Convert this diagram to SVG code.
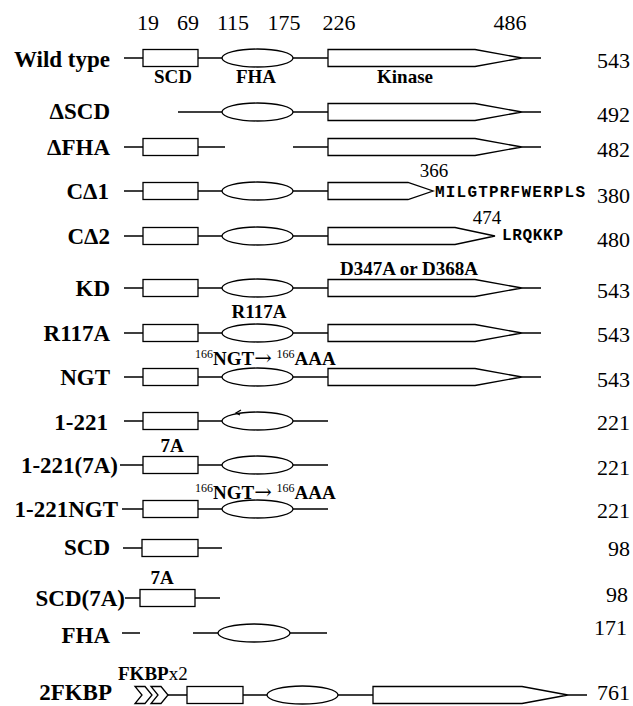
<svg xmlns="http://www.w3.org/2000/svg" width="633" height="706" viewBox="0 0 633 706">
<style>
text{fill:#000}
.ln{stroke:#000;stroke-width:1.3;fill:none}
.bx{fill:#fff;stroke:#000;stroke-width:1.3}
.lab{font-family:"Liberation Serif",serif;font-weight:bold;font-size:23px;text-anchor:end}
.num{font-family:"Liberation Serif",serif;font-size:22px;text-anchor:end}
.top{font-family:"Liberation Serif",serif;font-size:22px;text-anchor:middle}
.ann{font-family:"Liberation Serif",serif;font-weight:bold;font-size:19px}
.sm{font-family:"Liberation Serif",serif;font-size:19px;text-anchor:middle}
.mono{font-family:"Liberation Mono",monospace;font-weight:bold;font-size:16px}
.sup{font-size:12px;font-weight:normal}
.arr{font-family:"DejaVu Serif",serif;font-weight:normal;font-size:21px}
</style>
<rect width="633" height="706" fill="#fff"/>
<g id="axis">
<text class="top" x="148" y="30">19</text>
<text class="top" x="188" y="30">69</text>
<text class="top" x="233" y="30">115</text>
<text class="top" x="284" y="30">175</text>
<text class="top" x="339" y="30">226</text>
<text class="top" x="510" y="30">486</text>
</g>
<g id="connectors">
<path class="ln" d="M124 58H143M198 58H222M293 58H328M522 58H541"/>
<path class="ln" d="M178 112H222M293 112H328M522 112H541"/>
<path class="ln" d="M124 147H143M198 147H225M293 147H328M522 147H541"/>
<path class="ln" d="M124 191H143M198 191H222M293 191H328"/>
<path class="ln" d="M124 236H143M198 236H222M293 236H328"/>
<path class="ln" d="M124 288H143M198 288H222M293 288H328M522 288H541"/>
<path class="ln" d="M124 333H143M198 333H222M293 333H328M522 333H541"/>
<path class="ln" d="M124 377H143M198 377H222M293 377H328M522 377H541"/>
<path class="ln" d="M124 421H143M198 421H222M293 421H328"/>
<path class="ln" d="M120 465H143M198 465H222M293 465H328"/>
<path class="ln" d="M122 509H143M198 509H222M293 509H328"/>
<path class="ln" d="M123 548H142M198 548H222"/>
<path class="ln" d="M125 598H140M195 598H220"/>
<path class="ln" d="M122 633H140M193 633H218M290 633H327"/>
<path class="ln" d="M168 695H187M243 695H267M338 695H373M568 695H587"/>
</g>
<g id="wild-type">
<text class="lab" x="110" y="67">Wild type</text>
<rect class="bx" x="143" y="49.5" width="55" height="17"/>
<ellipse class="bx" cx="257.5" cy="58" rx="35.5" ry="9"/>
<polygon class="bx" points="328,49.5 475,49.5 522,58 475,66.5 328,66.5"/>
<text class="ann" x="173" y="83" text-anchor="middle">SCD</text>
<text class="ann" x="256" y="83" text-anchor="middle">FHA</text>
<text class="ann" x="405" y="83" text-anchor="middle">Kinase</text>
<text class="num" x="630" y="68" font-size="24">543</text>
</g>
<g id="dSCD">
<text class="lab" x="110" y="119">ΔSCD</text>
<ellipse class="bx" cx="257.5" cy="112" rx="35.5" ry="9"/>
<polygon class="bx" points="328,103.5 475,103.5 522,112 475,120.5 328,120.5"/>
<text class="num" x="630" y="122">492</text>
</g>
<g id="dFHA">
<text class="lab" x="110" y="155">ΔFHA</text>
<rect class="bx" x="143" y="138.5" width="55" height="17"/>
<polygon class="bx" points="328,138.5 475,138.5 522,147 475,155.5 328,155.5"/>
<text class="num" x="630" y="157">482</text>
</g>
<g id="cd1">
<text class="lab" x="109" y="199">CΔ1</text>
<rect class="bx" x="143" y="182.5" width="55" height="17"/>
<ellipse class="bx" cx="257.5" cy="191" rx="35.5" ry="9"/>
<polygon class="bx" points="328,182.5 408,182.5 433,191 408,199.5 328,199.5"/>
<text class="sm" x="434" y="177">366</text>
<text class="mono" x="435" y="197" textLength="150">MILGTPRFWERPLS</text>
<text class="num" x="630" y="203">380</text>
</g>
<g id="cd2">
<text class="lab" x="110" y="244">CΔ2</text>
<rect class="bx" x="143" y="227.5" width="55" height="17"/>
<ellipse class="bx" cx="257.5" cy="236" rx="35.5" ry="9"/>
<polygon class="bx" points="328,227.5 455,227.5 495,236 455,244.5 328,244.5"/>
<text class="sm" x="487" y="224">474</text>
<text class="mono" x="502" y="240" textLength="61">LRQKKP</text>
<text class="num" x="630" y="247">480</text>
</g>
<g id="kd">
<text class="lab" x="110" y="296">KD</text>
<rect class="bx" x="143" y="279.5" width="55" height="17"/>
<ellipse class="bx" cx="257.5" cy="288" rx="35.5" ry="9"/>
<polygon class="bx" points="328,279.5 475,279.5 522,288 475,296.5 328,296.5"/>
<text class="ann" x="340" y="275" font-size="17.5">D347A or D368A</text>
<text class="num" x="630" y="298">543</text>
</g>
<g id="r117a">
<text class="lab" x="110" y="341">R117A</text>
<rect class="bx" x="143" y="324.5" width="55" height="17"/>
<ellipse class="bx" cx="257.5" cy="333" rx="35.5" ry="9"/>
<polygon class="bx" points="328,324.5 475,324.5 522,333 475,341.5 328,341.5"/>
<text class="ann" x="259" y="318" text-anchor="middle">R117A</text>
<text class="num" x="630" y="342">543</text>
</g>
<g id="ngt">
<text class="lab" x="110" y="385">NGT</text>
<rect class="bx" x="143" y="368.5" width="55" height="17"/>
<ellipse class="bx" cx="257.5" cy="377" rx="35.5" ry="9"/>
<text class="ann" x="195" y="365"><tspan class="sup" dy="-7">166</tspan><tspan dy="7">NGT</tspan><tspan class="arr">→</tspan><tspan> </tspan><tspan class="sup" dy="-7">166</tspan><tspan dy="7">AAA</tspan></text>
<polygon class="bx" points="328,368.5 475,368.5 522,377 475,385.5 328,385.5"/>
<text class="num" x="630" y="387">543</text>
</g>
<g id="r1-221">
<text class="lab" x="108" y="430">1-221</text>
<rect class="bx" x="143" y="412.5" width="55" height="17"/>
<ellipse class="bx" cx="257.5" cy="421" rx="35.5" ry="9"/>
<path class="ln" d="M241 410L236 413L240 415" stroke-width="1"/>
<text class="num" x="630" y="430">221</text>
</g>
<g id="r1-221-7a">
<text class="lab" x="118" y="473">1-221(7A)</text>
<rect class="bx" x="143" y="456.5" width="55" height="17"/>
<ellipse class="bx" cx="257.5" cy="465" rx="35.5" ry="9"/>
<text class="ann" x="172" y="452" text-anchor="middle">7A</text>
<text class="num" x="630" y="475">221</text>
</g>
<g id="r1-221ngt">
<text class="lab" x="118" y="517">1-221NGT</text>
<rect class="bx" x="143" y="500.5" width="55" height="17"/>
<ellipse class="bx" cx="257.5" cy="509" rx="35.5" ry="9"/>
<text class="ann" x="195" y="499"><tspan class="sup" dy="-7">166</tspan><tspan dy="7">NGT</tspan><tspan class="arr">→</tspan><tspan> </tspan><tspan class="sup" dy="-7">166</tspan><tspan dy="7">AAA</tspan></text>
<text class="num" x="630" y="518">221</text>
</g>
<g id="scd">
<text class="lab" x="110" y="555">SCD</text>
<rect class="bx" x="142" y="539.5" width="56" height="17"/>
<text class="num" x="630" y="556">98</text>
</g>
<g id="scd-7a">
<text class="lab" x="125" y="606">SCD(7A)</text>
<rect class="bx" x="140" y="589.5" width="55" height="17"/>
<text class="ann" x="162" y="584" text-anchor="middle">7A</text>
<text class="num" x="628" y="602">98</text>
</g>
<g id="fha">
<text class="lab" x="110" y="643">FHA</text>
<ellipse class="bx" cx="254" cy="633" rx="36" ry="9"/>
<text class="num" x="627" y="635">171</text>
</g>
<g id="fkbp2">
<text class="lab" x="112" y="700">2FKBP</text>
<polygon class="bx" points="135,686.5 145,686.5 152,695 145,703.5 135,703.5 142,695"/>
<polygon class="bx" points="151,686.5 161,686.5 168,695 161,703.5 151,703.5 158,695"/>
<rect class="bx" x="187" y="686.5" width="56" height="17"/>
<ellipse class="bx" cx="302.5" cy="695" rx="35.5" ry="9"/>
<polygon class="bx" points="373,686.5 522,686.5 568,695 522,703.5 373,703.5"/>
<text class="ann" x="118" y="680" font-size="17">FKBP<tspan font-weight="normal">x2</tspan></text>
<text class="num" x="630" y="700">761</text>
</g>
</svg>
